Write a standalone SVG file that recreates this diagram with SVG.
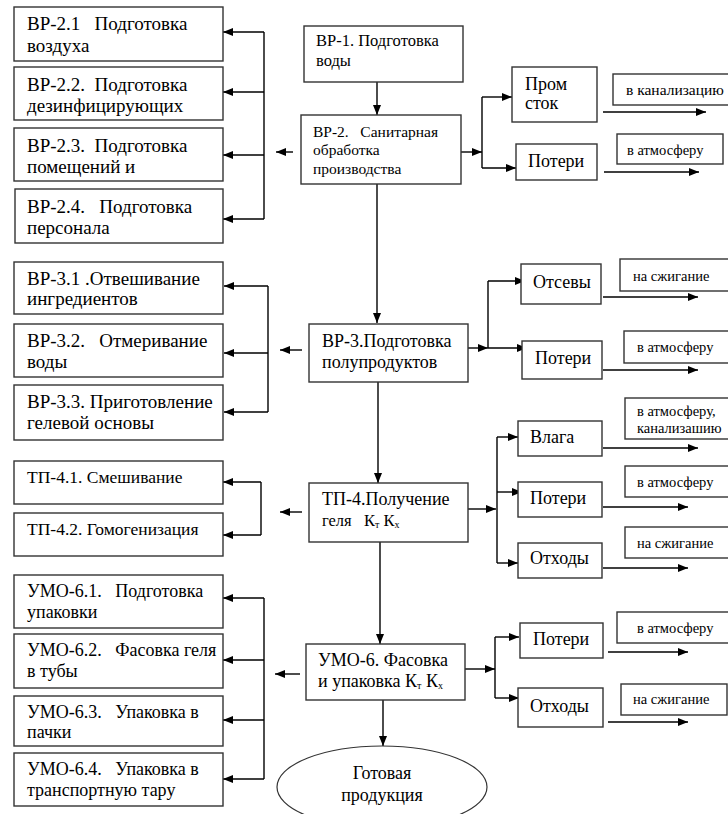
<svg xmlns="http://www.w3.org/2000/svg" width="728" height="814" viewBox="0 0 728 814" font-family="'Liberation Serif', 'DejaVu Serif', serif">
<defs>
<marker id="arr" markerWidth="10" markerHeight="8" refX="10" refY="4" orient="auto" markerUnits="userSpaceOnUse">
<path d="M0,0 L10,4 L0,8 z" fill="#000"/>
</marker>
<style>
rect.b{fill:#fff;stroke:#333;stroke-width:1.4}
ellipse.b{fill:#fff;stroke:#333;stroke-width:1.2}
text{font-family:'Liberation Serif','DejaVu Serif',serif;fill:#000}
.x{font-size:19px}
.l{font-size:18px}
.t{font-size:17.5px}
.m{font-size:16.5px}
.n{font-size:15.5px}
.s{font-size:14.5px}
.c{stroke:#000;stroke-width:1.4;fill:none}
.a{stroke:#000;stroke-width:1.4;fill:none;marker-end:url(#arr)}
.sub{font-size:10px}
</style>
</defs>
<rect width="728" height="814" fill="#fff"/>

<g id="connectors">
<line class="a" x1="377" y1="82" x2="377" y2="115"/>
<line class="a" x1="377" y1="184" x2="377" y2="323"/>
<line class="a" x1="378" y1="382" x2="378" y2="483"/>
<line class="a" x1="380" y1="542" x2="380" y2="644"/>
<line class="a" x1="383" y1="700" x2="383" y2="746"/>

<line class="a" x1="293" y1="152" x2="276" y2="152"/>
<line class="c" x1="264" y1="32" x2="264" y2="219"/>
<line class="a" x1="264" y1="32" x2="223" y2="32"/>
<line class="a" x1="264" y1="92" x2="223" y2="92"/>
<line class="a" x1="264" y1="155" x2="223" y2="155"/>
<line class="a" x1="264" y1="219" x2="223" y2="219"/>

<line class="a" x1="302" y1="350" x2="280" y2="350"/>
<line class="c" x1="268" y1="286" x2="268" y2="412"/>
<line class="a" x1="268" y1="286" x2="224" y2="286"/>
<line class="a" x1="268" y1="353" x2="224" y2="353"/>
<line class="a" x1="268" y1="412" x2="224" y2="412"/>

<line class="a" x1="302" y1="512" x2="280" y2="512"/>
<line class="c" x1="261" y1="482" x2="261" y2="535"/>
<line class="a" x1="261" y1="482" x2="223" y2="482"/>
<line class="a" x1="261" y1="535" x2="223" y2="535"/>

<line class="a" x1="300" y1="674" x2="275" y2="674"/>
<line class="c" x1="264" y1="598" x2="264" y2="779"/>
<line class="a" x1="264" y1="598" x2="223" y2="598"/>
<line class="a" x1="264" y1="660" x2="223" y2="660"/>
<line class="a" x1="264" y1="720" x2="223" y2="720"/>
<line class="a" x1="264" y1="779" x2="223" y2="779"/>

<line class="a" x1="461" y1="152" x2="482" y2="152"/>
<line class="c" x1="482" y1="97" x2="482" y2="168"/>
<line class="a" x1="482" y1="97" x2="512" y2="97"/>
<line class="a" x1="482" y1="168" x2="516" y2="168"/>
<line class="a" x1="603" y1="112" x2="706" y2="112"/>
<line class="a" x1="604" y1="172" x2="699" y2="172"/>

<line class="a" x1="468" y1="348" x2="488" y2="348"/>
<line class="c" x1="488" y1="281" x2="488" y2="348"/>
<line class="a" x1="488" y1="281" x2="525" y2="281"/>
<line class="a" x1="488" y1="348" x2="527" y2="348"/>
<line class="a" x1="603" y1="297" x2="698" y2="297"/>
<line class="a" x1="603" y1="370" x2="698" y2="370"/>

<line class="a" x1="468" y1="509" x2="496" y2="509"/>
<line class="c" x1="497" y1="437" x2="497" y2="563"/>
<line class="a" x1="497" y1="437" x2="518" y2="437"/>
<line class="a" x1="497" y1="492" x2="522" y2="492"/>
<line class="a" x1="497" y1="563" x2="518" y2="563"/>
<line class="a" x1="603" y1="448" x2="698" y2="448"/>
<line class="a" x1="603" y1="507" x2="688" y2="507"/>
<line class="a" x1="603" y1="568" x2="688" y2="568"/>

<line class="a" x1="465" y1="669" x2="495" y2="669"/>
<line class="c" x1="495" y1="637" x2="495" y2="698"/>
<line class="a" x1="495" y1="637" x2="519" y2="637"/>
<line class="a" x1="495" y1="698" x2="519" y2="698"/>
<line class="a" x1="608" y1="652" x2="688" y2="652"/>
<line class="a" x1="608" y1="722" x2="688" y2="722"/>
</g>

<g id="vr1">
<rect class="b" x="304" y="26" width="159" height="56"/>
<text class="m" x="316" y="46">ВР-1. Подготовка</text>
<text class="m" x="316" y="66">воды</text>
</g>
<g id="vr2">
<rect class="b" x="301" y="115" width="160" height="69"/>
<text class="n" x="313" y="137" xml:space="preserve">ВР-2.   Санитарная</text>
<text class="n" x="313" y="155">обработка</text>
<text class="n" x="313" y="174">производства</text>
</g>
<g id="vr3">
<rect class="b" x="309" y="324" width="159" height="58"/>
<text class="l" x="322" y="347">ВР-3.Подготовка</text>
<text class="l" x="322" y="368">полупродуктов</text>
</g>
<g id="tp4">
<rect class="b" x="309" y="483" width="159" height="59"/>
<text class="l" x="322" y="505">ТП-4.Получение</text>
<text class="m" x="322" y="526" xml:space="preserve">геля   К<tspan class="sub" dy="2">т</tspan><tspan dy="-2"> К</tspan><tspan class="sub" dy="2">х</tspan></text>
</g>
<g id="umo6">
<rect class="b" x="306" y="644" width="159" height="56"/>
<text class="l" x="318" y="666">УМО-6. Фасовка</text>
<text class="l" x="318" y="687">и упаковка К<tspan class="sub" dy="2">т</tspan><tspan dy="-2"> К</tspan><tspan class="sub" dy="2">х</tspan></text>
</g>
<g id="product">
<ellipse class="b" cx="382" cy="787" rx="105" ry="41"/>
<text class="l" x="382" y="779" text-anchor="middle">Готовая</text>
<text class="l" x="382" y="801" text-anchor="middle">продукция</text>
</g>

<g id="vr2-1">
<rect class="b" x="14" y="7" width="209" height="54"/>
<text class="x" x="27" y="30" xml:space="preserve">ВР-2.1   Подготовка</text>
<text class="x" x="27" y="52">воздуха</text>
</g>
<g id="vr2-2">
<rect class="b" x="14" y="67" width="209" height="53"/>
<text class="x" x="27" y="91" xml:space="preserve">ВР-2.2.  Подготовка</text>
<text class="x" x="27" y="112">дезинфицирующих</text>
</g>
<g id="vr2-3">
<rect class="b" x="14" y="128" width="209" height="53"/>
<text class="x" x="27" y="152" xml:space="preserve">ВР-2.3.  Подготовка</text>
<text class="x" x="27" y="173">помещений и</text>
</g>
<g id="vr2-4">
<rect class="b" x="15" y="189" width="208" height="54"/>
<text class="x" x="27" y="213" xml:space="preserve">ВР-2.4.   Подготовка</text>
<text class="x" x="27" y="234">персонала</text>
</g>

<g id="vr3-1">
<rect class="b" x="14" y="262" width="209" height="52"/>
<text class="x" x="27" y="285">ВР-3.1 .Отвешивание</text>
<text class="x" x="27" y="305">ингредиентов</text>
</g>
<g id="vr3-2">
<rect class="b" x="14" y="324" width="209" height="53"/>
<text class="x" x="27" y="347" xml:space="preserve">ВР-3.2.   Отмеривание</text>
<text class="x" x="27" y="368">воды</text>
</g>
<g id="vr3-3">
<rect class="b" x="14" y="385" width="209" height="55"/>
<text class="x" x="27" y="408">ВР-3.3. Приготовление</text>
<text class="x" x="27" y="429">гелевой основы</text>
</g>

<g id="tp4-1">
<rect class="b" x="14" y="461" width="209" height="43"/>
<text class="t" x="27" y="483">ТП-4.1. Смешивание</text>
</g>
<g id="tp4-2">
<rect class="b" x="14" y="513" width="209" height="43"/>
<text class="t" x="27" y="535">ТП-4.2. Гомогенизация</text>
</g>

<g id="umo6-1">
<rect class="b" x="14" y="575" width="209" height="53"/>
<text class="l" x="27" y="597" xml:space="preserve">УМО-6.1.   Подготовка</text>
<text class="l" x="27" y="618">упаковки</text>
</g>
<g id="umo6-2">
<rect class="b" x="14" y="634" width="209" height="54"/>
<text class="l" x="27" y="656" xml:space="preserve">УМО-6.2.   Фасовка геля</text>
<text class="l" x="27" y="677">в тубы</text>
</g>
<g id="umo6-3">
<rect class="b" x="14" y="696" width="209" height="50"/>
<text class="l" x="27" y="718" xml:space="preserve">УМО-6.3.   Упаковка в</text>
<text class="l" x="27" y="738">пачки</text>
</g>
<g id="umo6-4">
<rect class="b" x="14" y="753" width="209" height="53"/>
<text class="l" x="27" y="775" xml:space="preserve">УМО-6.4.   Упаковка в</text>
<text class="l" x="27" y="796">транспортную тару</text>
</g>

<g id="vr2-promstok">
<rect class="b" x="512" y="67" width="85" height="55"/>
<text class="l" x="525" y="90">Пром</text>
<text class="l" x="525" y="109">сток</text>
</g>
<g id="vr2-poteri">
<rect class="b" x="516" y="144" width="81" height="36"/>
<text class="l" x="528" y="167">Потери</text>
</g>
<g id="vr2-kanal">
<rect class="b" x="613" y="74" width="120" height="31"/>
<text class="n" x="626" y="95">в канализацию</text>
</g>
<g id="vr2-atm">
<rect class="b" x="617" y="134" width="106" height="30"/>
<text class="s" x="627" y="155">в атмосферу</text>
</g>

<g id="vr3-otsevy">
<rect class="b" x="521" y="264" width="80" height="40"/>
<text class="l" x="533" y="288">Отсевы</text>
</g>
<g id="vr3-poteri">
<rect class="b" x="522" y="341" width="80" height="38"/>
<text class="l" x="535" y="364">Потери</text>
</g>
<g id="vr3-burn">
<rect class="b" x="620" y="259" width="112" height="32"/>
<text class="s" x="633" y="281">на сжигание</text>
</g>
<g id="vr3-atm">
<rect class="b" x="624" y="331" width="108" height="32"/>
<text class="s" x="637" y="352">в атмосферу</text>
</g>

<g id="tp4-vlaga">
<rect class="b" x="518" y="421" width="84" height="35"/>
<text class="l" x="530" y="443">Влага</text>
</g>
<g id="tp4-poteri">
<rect class="b" x="518" y="482" width="84" height="35"/>
<text class="l" x="530" y="504">Потери</text>
</g>
<g id="tp4-othody">
<rect class="b" x="518" y="543" width="84" height="35"/>
<text class="l" x="530" y="564">Отходы</text>
</g>
<g id="tp4-atmkanal">
<rect class="b" x="625" y="398" width="107" height="41"/>
<text class="s" x="637" y="416">в атмосферу,</text>
<text class="s" x="637" y="433">канализашию</text>
</g>
<g id="tp4-atm">
<rect class="b" x="625" y="466" width="107" height="31"/>
<text class="s" x="637" y="487">в атмосферу</text>
</g>
<g id="tp4-burn">
<rect class="b" x="625" y="527" width="107" height="31"/>
<text class="s" x="637" y="548">на сжигание</text>
</g>

<g id="umo6-poteri">
<rect class="b" x="520" y="623" width="83" height="35"/>
<text class="l" x="533" y="645">Потери</text>
</g>
<g id="umo6-othody">
<rect class="b" x="518" y="688" width="85" height="39"/>
<text class="l" x="530" y="712">Отходы</text>
</g>
<g id="umo6-atm">
<rect class="b" x="617" y="612" width="115" height="31"/>
<text class="s" x="637" y="633">в атмосферу</text>
</g>
<g id="umo6-burn">
<rect class="b" x="621" y="684" width="106" height="31"/>
<text class="s" x="633" y="704">на сжигание</text>
</g>
</svg>
